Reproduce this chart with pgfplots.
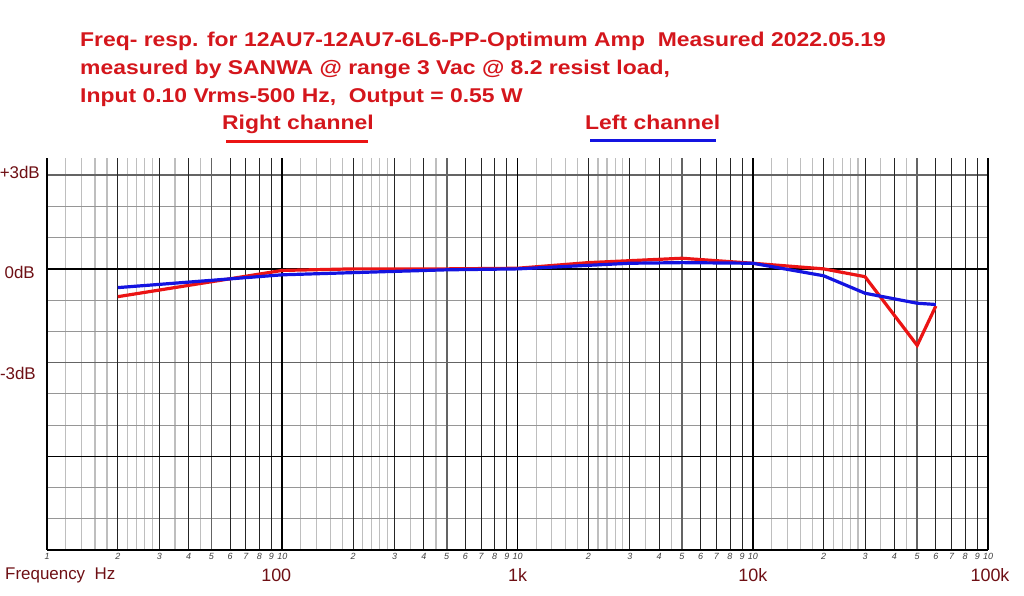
\documentclass[border=0pt]{standalone}
\usepackage{fontspec}
\setmainfont{Liberation Sans}
\usepackage{pgfplots}
\pgfplotsset{compat=1.18}
\definecolor{ttl}{RGB}{212,22,28}
\definecolor{lbl}{RGB}{110,15,20}
\definecolor{rch}{RGB}{235,20,20}
\definecolor{lch}{RGB}{20,20,225}
\definecolor{lgrid}{RGB}{190,190,190}
\definecolor{mgrid}{RGB}{150,150,150}
\definecolor{dgrid}{RGB}{100,100,100}
\newcommand{\ttlt}[1]{\scalebox{1.15}[1]{#1}}
\begin{document}
\begin{tikzpicture}[x=1bp,y=1bp]
\begin{axis}[
  at={(0,0)}, anchor=south west,
  scale only axis, width=941bp, height=392bp,
  xmode=log, log basis x=10,
  xmin=10, xmax=100000, ymin=-9, ymax=3.55,
  clip=false,
  axis line style={draw=none},
  ytick=\empty,
  xtick={10,20,30,40,50,60,70,80,90,100,200,300,400,500,600,700,800,900,1000,2000,3000,4000,5000,6000,7000,8000,9000,10000,20000,30000,40000,50000,60000,70000,80000,90000,100000},
  xticklabels={1,2,3,4,5,6,7,8,9,10,2,3,4,5,6,7,8,9,10,2,3,4,5,6,7,8,9,10,2,3,4,5,6,7,8,9,10},
  major tick length=0pt, minor tick length=0pt,
  xticklabel style={font=\fontsize{9}{9}\selectfont\itshape, text=black!75, inner sep=0pt, yshift=-3bp},
]
% light grey verticals
\pgfplotsinvokeforeach{12,14,16,18,22,24,26,28,35,45,120,140,160,180,220,240,260,280,350,450,1200,1400,1600,1800,2200,2400,2600,2800,3500,4500,12000,14000,16000,18000,22000,24000,26000,28000,35000,45000}{
  \draw[lgrid, line width=1.2bp] (axis cs:#1,-9) -- (axis cs:#1,3.55);
}
% horizontal grey lines
\pgfplotsinvokeforeach{2,1,-1,-2,-4,-5,-7,-8}{
  \draw[mgrid, line width=1.1bp] (axis cs:10,#1) -- (axis cs:100000,#1);
}
\pgfplotsinvokeforeach{3,-3}{
  \draw[dgrid, line width=1.8bp] (axis cs:10,#1) -- (axis cs:100000,#1);
}
% black thin verticals
\pgfplotsinvokeforeach{20,30,40,60,70,80,90,200,300,400,600,700,800,900,2000,3000,4000,6000,7000,8000,9000,20000,30000,40000,60000,70000,80000,90000}{
  \draw[black!85, line width=0.9bp] (axis cs:#1,-9) -- (axis cs:#1,3.55);
}
% dark grey 5s
\pgfplotsinvokeforeach{50,500,5000,50000}{
  \draw[dgrid, line width=1.8bp] (axis cs:#1,-9) -- (axis cs:#1,3.55);
}
% black horizontals
\pgfplotsinvokeforeach{0,-6}{
  \draw[black, line width=1.4bp] (axis cs:10,#1) -- (axis cs:100000,#1);
}
% decades
\pgfplotsinvokeforeach{10,100,1000,10000,100000}{
  \draw[black, line width=1.8bp] (axis cs:#1,-9) -- (axis cs:#1,3.55);
}
\draw[black, line width=2bp] (axis cs:10,-9) -- (axis cs:100000,-9);

% Right channel (red)
\addplot[rch, line width=3.2bp] coordinates {
  (20,-0.89) (100,-0.05) (200,0.0) (500,0.0) (1000,0.02) (2000,0.2) (5000,0.34) (10000,0.18) (20000,0.0) (30000,-0.25) (50000,-2.45) (60000,-1.19)
};
% Left channel (blue)
\addplot[lch, line width=3.2bp] coordinates {
  (20,-0.6) (100,-0.19) (200,-0.12) (500,-0.03) (1000,0.0) (3000,0.18) (5000,0.2) (10000,0.18) (20000,-0.22) (30000,-0.78) (50000,-1.1) (60000,-1.14)
};

\node[anchor=center, font=\fontsize{18}{18}\selectfont, text=lbl] at ([xshift=-6bp, yshift=-25bp]axis cs:100,-9) {100};
\node[anchor=center, font=\fontsize{18}{18}\selectfont, text=lbl] at ([yshift=-25bp]axis cs:1000,-9) {1k};
\node[anchor=center, font=\fontsize{18}{18}\selectfont, text=lbl] at ([yshift=-25bp]axis cs:10000,-9) {10k};
\node[anchor=center, font=\fontsize{18}{18}\selectfont, text=lbl] at ([xshift=2bp, yshift=-25bp]axis cs:100000,-9) {100k};
\end{axis}
\path[use as bounding box] (-47,-46) rectangle (977,550);
% titles
\begin{scope}[font=\fontsize{20}{20}\selectfont\bfseries, text=ttl]
\node[anchor=base west, inner sep=0pt] at (33,503) {\ttlt{Freq- resp. for 12AU7-12AU7-6L6-PP-Optimum Amp\ \ Measured 2022.05.19}};
\node[anchor=base west, inner sep=0pt] at (33,475) {\ttlt{measured by SANWA @ range 3 Vac @ 8.2 resist load,}};
\node[anchor=base west, inner sep=0pt] at (33,447) {\ttlt{Input 0.10 Vrms-500 Hz,\ \ Output = 0.55 W}};
\node[anchor=base west, inner sep=0pt] at (175,420) {\ttlt{Right channel}};
\node[anchor=base west, inner sep=0pt] at (538,420) {\ttlt{Left channel}};
\end{scope}
\draw[rch, line width=3bp] (179,408) -- (321,408);
\draw[lch, line width=3bp] (543,409) -- (669,409);
% y labels
\begin{scope}[font=\fontsize{17}{17}\selectfont, text=lbl]
\node[anchor=east, inner sep=0pt] at (-7,378) {+3dB};
\node[anchor=east, inner sep=0pt] at (-12,278) {0dB};
\node[anchor=east, inner sep=0pt] at (-11,177) {-3dB};
\node[anchor=west, inner sep=0pt] at (-42,-25) {Frequency\ \ Hz};
\end{scope}
\end{tikzpicture}
\end{document}
